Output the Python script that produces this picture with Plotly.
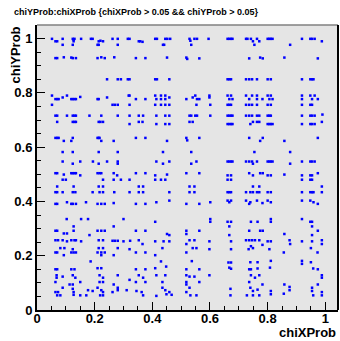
import plotly.graph_objects as go

# (chiXProb, chiYProb) points grouped by horizontal band
band_top = [(0.052,0.999),(0.089,0.999),(0.124,0.999),(0.127,0.996),(0.130,0.999),(0.153,0.999),(0.187,0.999),(0.193,0.999),(0.262,0.999),(0.280,0.999),(0.315,0.999),(0.321,0.999),(0.410,0.999),(0.416,0.999),(0.445,0.999),(0.452,0.999),(0.462,0.999),(0.529,0.999),
    (0.546,0.999),(0.555,0.999),(0.595,0.999),(0.661,0.999),(0.667,0.999),(0.673,0.999),(0.678,0.999),(0.725,0.999),(0.730,0.999),(0.742,0.999),(0.763,0.999),(0.800,0.999),(0.806,0.999),(0.811,0.999),(0.817,0.999),(0.919,0.999),(0.948,0.999),(0.954,0.999),(0.963,0.999),
    (0.064,0.990),(0.070,0.990),(0.127,0.990),(0.214,0.990),(0.220,0.992),(0.229,0.990),(0.353,0.990),(0.358,0.990),(0.366,0.988),(0.532,0.992),(0.749,0.990),(0.771,0.990),(0.988,0.990),
    (0.089,0.977),(0.124,0.977),(0.210,0.977),(0.214,0.977),(0.280,0.977),(0.437,0.977),(0.441,0.977),(0.535,0.977),(0.754,0.977),(0.878,0.977)]
band_093 = [(0.064,0.928),(0.070,0.928),(0.093,0.931),(0.119,0.930),(0.124,0.928),(0.135,0.928),(0.210,0.928),(0.223,0.931),(0.235,0.928),(0.268,0.931),(0.343,0.928),(0.376,0.928),(0.451,0.930),(0.518,0.930),(0.521,0.925),(0.563,0.927),(0.736,0.927),(0.774,0.930),(0.783,0.927),(0.858,0.930),(0.974,0.927)]
band_085 = [(0.243,0.850),(0.280,0.850),(0.291,0.850),(0.315,0.850),(0.321,0.850),(0.410,0.850),(0.416,0.850),(0.459,0.850),(0.661,0.850),(0.667,0.850),(0.673,0.850),(0.725,0.850),(0.736,0.850),(0.746,0.850),(0.763,0.850),(0.800,0.850),(0.811,0.850),(0.919,0.850),(0.948,0.850),(0.954,0.850),(0.959,0.850)]
band_078 = [(0.052,0.790),(0.064,0.777),(0.070,0.777),(0.075,0.777),(0.089,0.783),(0.104,0.790),(0.119,0.777),(0.124,0.777),(0.130,0.777),(0.135,0.777),(0.150,0.785),(0.210,0.777),(0.214,0.777),(0.243,0.783),(0.318,0.790),(0.321,0.790),(0.343,0.777),(0.376,0.777),(0.410,0.790),(0.414,0.777),(0.430,0.790),(0.430,0.777),(0.445,0.790),(0.445,0.777),(0.459,0.783),(0.518,0.777),
    (0.540,0.783),(0.549,0.790),(0.555,0.777),(0.563,0.777),(0.598,0.790),(0.598,0.783),(0.661,0.790),(0.667,0.777),(0.673,0.790),(0.678,0.777),(0.725,0.790),(0.736,0.777),(0.746,0.790),(0.763,0.790),(0.763,0.777),(0.782,0.777),(0.800,0.790),(0.806,0.777),(0.811,0.790),(0.817,0.777),(0.919,0.790),(0.919,0.777),(0.948,0.790),(0.954,0.777),(0.963,0.790),(0.974,0.777)]
band_076 = [(0.052,0.756),(0.262,0.756),(0.270,0.756),(0.280,0.756),(0.321,0.756),(0.410,0.756),(0.430,0.756),(0.445,0.756),(0.459,0.756),(0.553,0.756),(0.601,0.756),(0.661,0.756),(0.667,0.756),(0.673,0.756),(0.725,0.756),(0.736,0.756),(0.746,0.756),(0.763,0.756),(0.800,0.756),(0.811,0.756),(0.919,0.756),(0.948,0.756),(0.954,0.756)]
band_072 = [(0.064,0.716),(0.070,0.716),(0.104,0.716),(0.124,0.716),(0.130,0.716),(0.135,0.716),(0.182,0.716),(0.223,0.716),(0.280,0.716),(0.321,0.716),(0.353,0.716),(0.368,0.716),(0.414,0.716),(0.445,0.716),(0.459,0.716),(0.529,0.716),(0.535,0.716),(0.549,0.716),(0.555,0.716),(0.601,0.716),(0.661,0.716),(0.667,0.716),(0.673,0.716),(0.678,0.716),(0.725,0.716),(0.736,0.716),(0.746,0.716),(0.763,0.716),(0.771,0.716),(0.800,0.716),(0.806,0.716),(0.811,0.716),(0.919,0.716),(0.948,0.716),(0.954,0.716),(0.963,0.716),(0.990,0.720)]
band_069 = [(0.070,0.693),(0.124,0.693),(0.130,0.693),(0.135,0.693),(0.214,0.693),(0.220,0.693),(0.229,0.693),(0.321,0.685),(0.353,0.693),(0.366,0.693),(0.414,0.685),(0.445,0.685),(0.459,0.685),(0.529,0.693),(0.540,0.693),(0.661,0.685),(0.667,0.685),(0.673,0.685),(0.678,0.685),(0.740,0.685),(0.749,0.693),(0.763,0.693),(0.771,0.693),(0.800,0.685),(0.806,0.685),(0.811,0.685),(0.817,0.685),(0.919,0.685),(0.948,0.685),(0.954,0.685),(0.963,0.685),(0.988,0.693)]
band_063 = [(0.064,0.634),(0.070,0.634),(0.075,0.634),(0.093,0.623),(0.119,0.623),(0.124,0.634),(0.210,0.634),(0.214,0.634),(0.217,0.634),(0.223,0.623),(0.266,0.623),(0.343,0.634),(0.376,0.634),(0.451,0.623),(0.518,0.634),(0.521,0.625),(0.563,0.634),(0.736,0.634),(0.774,0.623),(0.783,0.634),(0.858,0.623),(0.974,0.634)]
band_058 = [(0.089,0.582),(0.124,0.582),(0.214,0.582),(0.280,0.582),(0.437,0.582),(0.535,0.582),(0.754,0.582),(0.878,0.582)]
band_054 = [(0.089,0.547),(0.124,0.539),(0.150,0.547),(0.194,0.547),(0.214,0.539),(0.243,0.547),(0.280,0.547),(0.280,0.539),(0.414,0.547),(0.437,0.539),(0.459,0.547),(0.535,0.539),(0.553,0.547),(0.661,0.547),(0.667,0.547),(0.673,0.547),(0.678,0.547),(0.725,0.547),(0.736,0.547),(0.746,0.547),(0.749,0.539),(0.763,0.547),(0.800,0.547),(0.806,0.547),(0.811,0.547),(0.817,0.547),(0.878,0.539),(0.919,0.547),(0.948,0.547),(0.954,0.547),(0.963,0.547)]
band_050 = [(0.064,0.504),(0.070,0.504),(0.093,0.499),(0.119,0.504),(0.124,0.504),(0.130,0.504),(0.135,0.504),(0.150,0.496),(0.210,0.504),(0.217,0.504),(0.223,0.504),(0.266,0.504),(0.278,0.496),(0.343,0.504),(0.376,0.504),(0.410,0.496),(0.451,0.499),(0.518,0.504),(0.563,0.504),(0.661,0.496),(0.673,0.496),(0.736,0.504),(0.749,0.496),(0.774,0.504),(0.783,0.504),(0.800,0.496),(0.811,0.496),(0.858,0.499),(0.919,0.496),(0.948,0.496),(0.954,0.496),(0.974,0.504)]
band_048 = [(0.089,0.480),(0.100,0.480),(0.229,0.480),(0.266,0.480),(0.291,0.480),(0.321,0.480),(0.410,0.480),(0.430,0.480),(0.445,0.480),(0.661,0.480),(0.673,0.480),(0.919,0.480),(0.948,0.480),(0.954,0.480)]
band_045 = [(0.070,0.455),(0.127,0.455),(0.214,0.455),(0.229,0.455),(0.353,0.455),(0.368,0.455),(0.529,0.455),(0.546,0.455),(0.749,0.455),(0.771,0.455),(0.988,0.455)]
band_043 = [(0.064,0.434),(0.070,0.434),(0.089,0.434),(0.124,0.434),(0.133,0.434),(0.193,0.434),(0.217,0.434),(0.229,0.434),(0.268,0.434),(0.321,0.434),(0.353,0.434),(0.368,0.434),(0.459,0.434),(0.529,0.434),(0.546,0.434),(0.661,0.434),(0.667,0.434),(0.673,0.434),(0.725,0.434),(0.740,0.434),(0.749,0.434),(0.763,0.434),(0.771,0.434),(0.800,0.434),(0.811,0.434),(0.919,0.434),(0.948,0.434),(0.954,0.434),(0.959,0.434),(0.988,0.434)]
band_039 = [(0.459,0.403),(0.064,0.391),(0.070,0.391),(0.104,0.397),(0.119,0.391),(0.124,0.391),(0.135,0.391),(0.170,0.397),(0.210,0.391),(0.223,0.391),(0.235,0.391),(0.266,0.394),(0.343,0.391),(0.376,0.391),(0.414,0.397),(0.518,0.391),(0.563,0.391),(0.601,0.397),(0.661,0.403),(0.667,0.397),(0.673,0.403),(0.725,0.403),(0.740,0.397),(0.736,0.391),(0.763,0.403),(0.782,0.394),(0.800,0.403),(0.811,0.397),(0.919,0.403),(0.948,0.403),(0.959,0.397),(0.974,0.391)]
band_032 = [(0.103,0.335),(0.153,0.335),(0.177,0.335),(0.300,0.335),(0.410,0.325),(0.127,0.308),(0.266,0.308),(0.601,0.335),(0.601,0.325),(0.661,0.325),(0.673,0.325),(0.667,0.308),(0.742,0.325),(0.765,0.325),(0.811,0.335),(0.811,0.325),(0.919,0.335),(0.948,0.325),(0.954,0.325),(0.954,0.308)]
band_029 = [(0.064,0.292),(0.070,0.292),(0.093,0.282),(0.104,0.282),(0.127,0.292),(0.182,0.276),(0.210,0.292),(0.223,0.292),(0.235,0.292),(0.343,0.292),(0.376,0.292),(0.451,0.280),(0.459,0.276),(0.518,0.292),(0.518,0.280),(0.563,0.292),(0.667,0.276),(0.736,0.292),(0.774,0.292),(0.783,0.292),(0.858,0.280),(0.954,0.276),(0.974,0.292)]
band_025 = [(0.064,0.257),(0.073,0.257),(0.089,0.257),(0.104,0.253),(0.119,0.257),(0.130,0.257),(0.135,0.257),(0.153,0.253),(0.214,0.257),(0.229,0.257),(0.262,0.255),(0.270,0.255),(0.280,0.255),(0.300,0.253),(0.323,0.255),(0.353,0.257),(0.366,0.243),(0.410,0.253),(0.439,0.253),(0.459,0.253),(0.529,0.257),(0.546,0.257),(0.598,0.253),(0.673,0.253),(0.725,0.257),(0.736,0.257),(0.746,0.257),(0.756,0.257),(0.771,0.257),(0.800,0.253),(0.811,0.253),(0.876,0.257),(0.919,0.253),(0.954,0.253),(0.988,0.257)]
band_023 = [(0.081,0.228),(0.095,0.228),(0.124,0.224),(0.214,0.228),(0.229,0.228),(0.280,0.228),(0.321,0.224),(0.435,0.228),(0.518,0.243),(0.540,0.228),(0.553,0.228),(0.598,0.224),(0.673,0.224),(0.742,0.235),(0.734,0.224),(0.749,0.228),(0.782,0.240),(0.806,0.224),(0.878,0.243),(0.950,0.228),(0.988,0.243)]
band_021 = [(0.064,0.212),(0.070,0.212),(0.119,0.212),(0.127,0.212),(0.135,0.212),(0.210,0.212),(0.223,0.212),(0.235,0.212),(0.343,0.212),(0.376,0.212),(0.518,0.212),(0.856,0.212),(0.973,0.212),(0.093,0.202),(0.223,0.202),(0.266,0.202),(0.410,0.202)]
band_018 = [(0.186,0.179),(0.430,0.179),(0.537,0.180),(0.664,0.175),(0.673,0.175),(0.740,0.176),(0.765,0.176),(0.811,0.181),(0.919,0.181),(0.919,0.170),(0.950,0.176)]
band_015 = [(0.064,0.150),(0.070,0.150),(0.119,0.150),(0.130,0.150),(0.210,0.154),(0.223,0.154),(0.343,0.150),(0.376,0.150),(0.410,0.154),(0.448,0.160),(0.518,0.150),(0.563,0.150),(0.667,0.156),(0.673,0.152),(0.736,0.150),(0.742,0.150),(0.765,0.153),(0.808,0.156),(0.958,0.153),(0.974,0.150)]
band_012 = [(0.068,0.128),(0.068,0.119),(0.089,0.123),(0.124,0.128),(0.133,0.119),(0.217,0.128),(0.229,0.119),(0.280,0.128),(0.321,0.111),(0.353,0.128),(0.368,0.119),(0.414,0.128),(0.445,0.128),(0.518,0.128),(0.529,0.123),(0.546,0.123),(0.598,0.128),(0.742,0.128),(0.756,0.119),(0.771,0.128),(0.988,0.128),(0.988,0.119)]
band_010 = [(0.064,0.103),(0.113,0.094),(0.124,0.094),(0.150,0.103),(0.217,0.103),(0.229,0.103),(0.266,0.094),(0.343,0.103),(0.376,0.103),(0.435,0.103),(0.518,0.103),(0.518,0.094),(0.563,0.103),(0.736,0.103),(0.782,0.094),(0.858,0.094),(0.974,0.094)]
band_007 = [(0.089,0.082),(0.124,0.078),(0.177,0.073),(0.193,0.070),(0.210,0.082),(0.223,0.073),(0.229,0.066),(0.280,0.082),(0.280,0.073),(0.311,0.073),(0.345,0.070),(0.435,0.082),(0.445,0.073),(0.459,0.066),(0.064,0.066),(0.073,0.066),(0.127,0.066),(0.262,0.066),(0.363,0.066),(0.518,0.066),(0.529,0.082),(0.671,0.078),(0.740,0.082),(0.749,0.070),(0.765,0.075),(0.811,0.070),(0.856,0.060),(0.876,0.085),(0.876,0.073),(0.954,0.082),(0.954,0.070),(0.988,0.066)]
band_005 = [(0.070,0.054),(0.081,0.054),(0.127,0.056),(0.150,0.054),(0.171,0.054),(0.219,0.054),(0.229,0.054),(0.368,0.054),(0.414,0.052),(0.449,0.058),(0.467,0.056),(0.532,0.054),(0.553,0.054),(0.671,0.054),(0.728,0.054),(0.749,0.054),(0.771,0.054),(0.811,0.058),(0.958,0.054),(0.988,0.054)]

bands = [band_top, band_093, band_085, band_078, band_076, band_072, band_069, band_063,
         band_058, band_054, band_050, band_048, band_045, band_043, band_039, band_032,
         band_029, band_025, band_023, band_021, band_018, band_015, band_012, band_010,
         band_007, band_005]
chiXProb = [p[0] for b in bands for p in b]
chiYProb = [p[1] for b in bands for p in b]

x_ticks = [0, 0.2, 0.4, 0.6, 0.8, 1]
x_ticklabels = ["0", "0.2", "0.4", "0.6", "0.8", "1"]
y_ticks = [0, 0.2, 0.4, 0.6, 0.8, 1]
y_ticklabels = ["0", "0.2", "0.4", "0.6", "0.8", "1"]

FONT = "Liberation Sans, Arial, Helvetica, sans-serif"

fig = go.Figure()
fig.add_trace(go.Scatter(
    x=chiXProb, y=chiYProb, mode="markers",
    marker=dict(symbol="square", size=2.5, color="#0000ff", line=dict(width=0)),
    showlegend=False, hoverinfo="skip"))

axis_common = dict(
    showgrid=False, zeroline=False, showline=True, linecolor="black", linewidth=2,
    ticks="inside", ticklen=8, tickwidth=1, tickcolor="black",
    minor=dict(ticks="inside", dtick=0.05, ticklen=4, tickwidth=1, tickcolor="black", showgrid=False),
    tickfont=dict(family=FONT, size=13, color="black", weight="bold"),
    fixedrange=True,
)

fig.update_layout(
    width=340, height=341, autosize=False,
    margin=dict(l=37, r=2, t=25, b=31, pad=0),
    paper_bgcolor="white", plot_bgcolor="#e5e5e5",
    xaxis=dict(range=[0, 1.044], tickvals=x_ticks, ticktext=x_ticklabels, ticklabelstandoff=-5, **axis_common),
    yaxis=dict(range=[0, 1.05], tickvals=y_ticks, ticktext=y_ticklabels, ticklabelstandoff=0, **axis_common),
    shapes=[
        dict(type="line", xref="paper", yref="paper", x0=0, x1=1, y0=1, y1=1,
             line=dict(color="#808080", width=1.5)),
        dict(type="line", xref="paper", yref="paper", x0=1, x1=1, y0=0, y1=1,
             line=dict(color="black", width=2)),
    ],
    annotations=[
        dict(text="chiYProb:chiXProb {chiXProb > 0.05 && chiYProb > 0.05}",
             xref="paper", yref="paper", x=-0.084, y=1.0446, xanchor="left", yanchor="middle",
             showarrow=False, font=dict(family=FONT, size=9, color="black", weight="bold")),
        dict(text="chiXProb", xref="paper", yref="paper", x=1.0, y=-0.0807,
             xanchor="right", yanchor="middle", showarrow=False,
             font=dict(family=FONT, size=13, color="black", weight="bold")),
        dict(text="chiYProb", xref="paper", yref="paper", x=-0.073, y=1.0,
             xanchor="center", yanchor="top", textangle=-90, showarrow=False,
             font=dict(family=FONT, size=13, color="black", weight="bold")),
    ],
)

fig.write_html("out.html")
